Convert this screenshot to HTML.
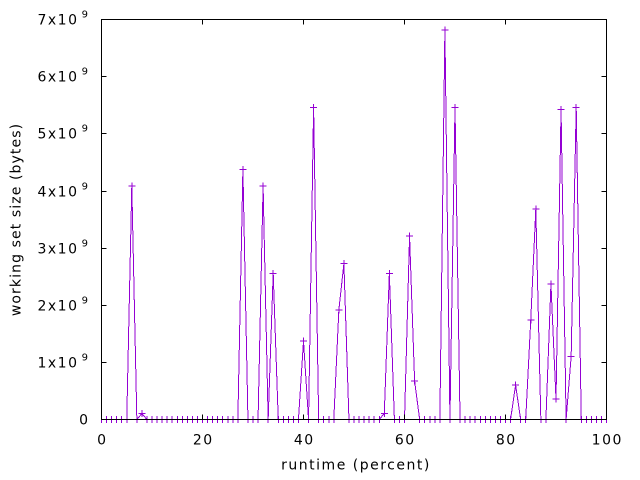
<!DOCTYPE html>
<html>
<head>
<meta charset="utf-8">
<style>
html,body{margin:0;padding:0;background:#fff;}
svg{display:block;}
text{font-family:"DejaVu Sans","Liberation Sans",sans-serif;fill:#000;}
</style>
</head>
<body>
<svg width="640" height="480" viewBox="0 0 640 480" xmlns="http://www.w3.org/2000/svg">
<rect width="640" height="480" fill="#fff"/>

<!-- series line -->
<polyline fill="none" stroke="#9400d3" stroke-width="1" shape-rendering="crispEdges"
points="101.5,419.5 126.75,419.5 131.8,186 136.85,419.5 141.9,413.5 146.95,419.5 237.85,419.5 242.9,169.5 247.95,419.5 258.05,419.5 263.1,186 268.15,419.5 273.2,273.5 278.25,419.5 298.45,419.5 303.5,341 308.55,419.5 313.6,107.5 318.65,419.5 333.8,419.5 338.85,310 343.9,263.5 348.95,419.5 379.25,419.5 384.3,413.5 389.35,273.5 394.4,419.5 404.5,419.5 409.55,236 414.6,381 419.65,419.5 439.85,419.5 444.9,30 449.95,419.5 455,107.5 460.05,419.5 510.55,419.5 515.6,385 520.65,419.5 525.7,419.5 530.75,320 535.8,209 540.85,419.5 545.9,419.5 550.95,284 556,399 561.05,109.5 566.1,419.5 571.15,356.5 576.2,107.5 581.25,419.5 606.5,419.5"/>

<!-- plus markers for nonzero points -->
<path fill="none" stroke="#9400d3" stroke-width="1" shape-rendering="crispEdges" d="
M128.3 186h7M131.8 182.5v7
M138.4 413.5h7M141.9 410v7
M239.4 169.5h7M242.9 166v7
M259.6 186h7M263.1 182.5v7
M269.7 273.5h7M273.2 270v7
M300 341h7M303.5 337.5v7
M310.1 107.5h7M313.6 104v7
M335.35 310h7M338.85 306.5v7
M340.4 263.5h7M343.9 260v7
M380.8 413.5h7M384.3 410v7
M385.85 273.5h7M389.35 270v7
M406.05 236h7M409.55 232.5v7
M411.1 381h7M414.6 377.5v7
M441.4 30h7M444.9 26.5v7
M451.5 107.5h7M455 104v7
M512.1 385h7M515.6 381.5v7
M527.25 320h7M530.75 316.5v7
M532.3 209h7M535.8 205.5v7
M547.45 284h7M550.95 280.5v7
M552.5 399h7M556 395.5v7
M557.55 109.5h7M561.05 106v7
M567.65 356.5h7M571.15 353v7
M572.7 107.5h7M576.2 104v7
"/>

<!-- plus markers for zero points (vertical parts) -->
<path fill="none" stroke="#9400d3" stroke-width="1" shape-rendering="crispEdges" d="
M101.5 416v7M106.55 416v7M111.6 416v7M116.65 416v7M121.7 416v7M126.75 416v7
M136.85 416v7
M146.95 416v7M152 416v7M157.05 416v7M162.1 416v7M167.15 416v7M172.2 416v7M177.25 416v7M182.3 416v7M187.35 416v7M192.4 416v7M197.45 416v7M202.5 416v7M207.55 416v7M212.6 416v7M217.65 416v7M222.7 416v7M227.75 416v7M232.8 416v7M237.85 416v7
M247.95 416v7M253 416v7M258.05 416v7
M268.15 416v7
M278.25 416v7M283.3 416v7M288.35 416v7M293.4 416v7M298.45 416v7
M308.55 416v7
M318.65 416v7M323.7 416v7M328.75 416v7M333.8 416v7
M348.95 416v7M354 416v7M359.05 416v7M364.1 416v7M369.15 416v7M374.2 416v7M379.25 416v7
M394.4 416v7M399.45 416v7M404.5 416v7
M419.65 416v7M424.7 416v7M429.75 416v7M434.8 416v7M439.85 416v7
M449.95 416v7
M460.05 416v7M465.1 416v7M470.15 416v7M475.2 416v7M480.25 416v7M485.3 416v7M490.35 416v7M495.4 416v7M500.45 416v7M505.5 416v7M510.55 416v7
M520.65 416v7M525.7 416v7
M540.85 416v7M545.9 416v7
M566.1 416v7
M581.25 416v7M586.3 416v7M591.35 416v7M596.4 416v7M601.45 416v7M606.5 416v7
"/>

<!-- border -->
<rect x="101.5" y="19.5" width="505" height="400" fill="none" stroke="#000" stroke-width="1" shape-rendering="crispEdges"/>

<!-- ticks -->
<path fill="none" stroke="#000" stroke-width="1" shape-rendering="crispEdges" d="
M101.5 362.5h5M101.5 305.5h5M101.5 248.5h5M101.5 191.5h5M101.5 133.5h5M101.5 76.5h5
M606.5 362.5h-5M606.5 305.5h-5M606.5 248.5h-5M606.5 191.5h-5M606.5 133.5h-5M606.5 76.5h-5
M202.5 419.5v-5M303.5 419.5v-5M404.5 419.5v-5M505.5 419.5v-5
M202.5 19.5v5M303.5 19.5v5M404.5 19.5v5M505.5 19.5v5
"/>

<!-- x tick labels -->
<g font-size="14" letter-spacing="1.5" text-anchor="middle">
<text x="102.3" y="444.5">0</text>
<text x="203.3" y="444.5">20</text>
<text x="304.3" y="444.5">40</text>
<text x="405.3" y="444.5">60</text>
<text x="506.3" y="444.5">80</text>
<text x="607.3" y="444.5">100</text>
</g>

<!-- y tick labels -->
<g font-size="14" letter-spacing="1.5" text-anchor="end">
<text x="89.5" y="424.5">0</text>
<text x="78.5" y="367.5">1x10</text>
<text x="78.5" y="310.5">2x10</text>
<text x="78.5" y="253.5">3x10</text>
<text x="78.5" y="196.5">4x10</text>
<text x="78.5" y="138.5">5x10</text>
<text x="78.5" y="81.5">6x10</text>
<text x="78.5" y="24.5">7x10</text>
</g>
<g font-size="10" text-anchor="end">
<text x="88" y="360.5">9</text>
<text x="88" y="303.5">9</text>
<text x="88" y="246.5">9</text>
<text x="88" y="189.5">9</text>
<text x="88" y="131.5">9</text>
<text x="88" y="74.5">9</text>
<text x="88" y="17.5">9</text>
</g>

<!-- axis titles -->
<text x="356" y="469.5" font-size="14" letter-spacing="1.5" text-anchor="middle">runtime (percent)</text>
<text transform="translate(20.5,219.5) rotate(-90)" font-size="14" letter-spacing="1.1" text-anchor="middle">working set size (bytes)</text>
</svg>
</body>
</html>
